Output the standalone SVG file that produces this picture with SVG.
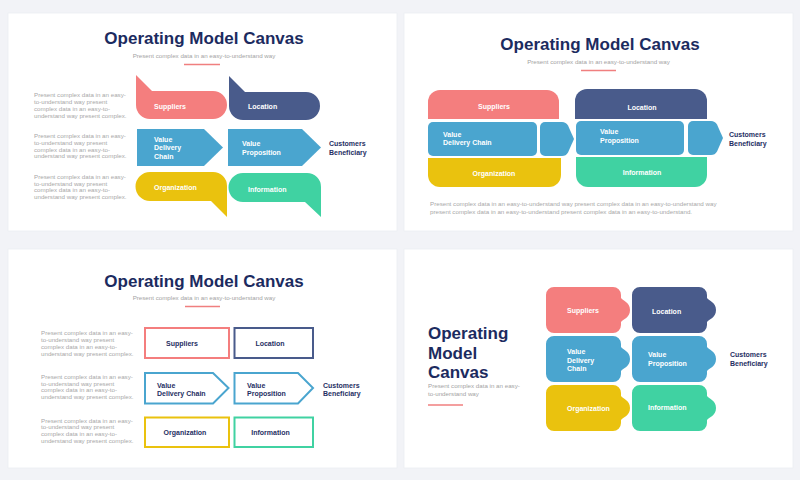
<svg xmlns="http://www.w3.org/2000/svg" xmlns:xlink="http://www.w3.org/1999/xlink" width="800" height="480" viewBox="0 0 800 480">
<style>
.bg{fill:#f2f3f7}
.slide{fill:#ffffff;stroke:#eceef3;stroke-width:0.8}
.title{font-family:"Liberation Sans",Arial,sans-serif;font-weight:bold;font-size:17px;fill:#1c2b5f}
.sub{font-family:"Liberation Sans",Arial,sans-serif;font-size:6.2px;fill:#a3a3a3}
.body{font-family:"Liberation Sans",Arial,sans-serif;font-size:6.2px;fill:#a8a8a8}
.lbl{font-family:"Liberation Sans",Arial,sans-serif;font-weight:bold;font-size:7px;fill:#ffffff}
.lbld{font-family:"Liberation Sans",Arial,sans-serif;font-weight:bold;font-size:7px;fill:#1f2f63}
.rule{stroke:#f07f7f;stroke-width:1.3}
.pink{fill:#f47e7e}
.navy{fill:#495b8b}
.blue{fill:#4aa5cf}
.yellow{fill:#eac20e}
.green{fill:#40d2a2}
.o{fill:#ffffff;stroke-width:2}
.opink{stroke:#f47e7e}
.onavy{stroke:#495b8b}
.oblue{stroke:#4aa5cf}
.oyellow{stroke:#eac20e}
.ogreen{stroke:#40d2a2}
.c{text-anchor:middle}
</style>
<defs>
<path id="puzzle" d="M8,0 H67 A8,8 0 0 1 75,8 V11 C77,14 84,15 84,23 C84,31 77,32 75,35 V38 A8,8 0 0 1 67,46 H8 A8,8 0 0 1 0,38 V8 A8,8 0 0 1 8,0 Z"/>
</defs>
<rect class="bg" x="0" y="0" width="800" height="480"/>

<!-- Slide 1 -->
<g id="slide1">
<rect class="slide" x="8" y="13" width="389" height="218"/>
<text class="title c" x="204" y="43.5">Operating Model Canvas</text>
<text class="sub c" x="204" y="57.5">Present complex data in an easy-to-understand way</text>
<line class="rule" x1="184" y1="64.5" x2="220" y2="64.5"/>
<g id="s1-desc">
<text class="body" x="34" y="97">Present complex data in an easy-</text>
<text class="body" x="34" y="104">to-understand way present</text>
<text class="body" x="34" y="111">complex data in an easy-to-</text>
<text class="body" x="34" y="118">understand way present complex.</text>
<text class="body" x="34" y="138">Present complex data in an easy-</text>
<text class="body" x="34" y="145">to-understand way present</text>
<text class="body" x="34" y="151.5">complex data in an easy-to-</text>
<text class="body" x="34" y="158">understand way present complex.</text>
<text class="body" x="34" y="179">Present complex data in an easy-</text>
<text class="body" x="34" y="185.5">to-understand way present</text>
<text class="body" x="34" y="192">complex data in an easy-to-</text>
<text class="body" x="34" y="199">understand way present complex.</text>
</g>
<g id="s1-suppliers">
<path class="pink" d="M136,75 L152,91 H213 A14,14 0 0 1 213,119 H150 A14,14 0 0 1 136,105 Z"/>
<text class="lbl" x="154" y="108.5">Suppliers</text>
</g>
<g id="s1-location">
<path class="navy" d="M229,76 L245,92 H306 A14,14 0 0 1 306,120 H243 A14,14 0 0 1 229,106 Z"/>
<text class="lbl" x="248" y="108.5">Location</text>
</g>
<g id="s1-vdc">
<path class="blue" d="M137,129 H204 L223,147.5 L204,166 H137 Z"/>
<text class="lbl" x="154" y="141.5">Value</text>
<text class="lbl" x="154" y="150">Delivery</text>
<text class="lbl" x="154" y="158.5">Chain</text>
</g>
<g id="s1-vp">
<path class="blue" d="M228,129 H302 L321,147.5 L302,166 H228 Z"/>
<text class="lbl" x="242" y="146">Value</text>
<text class="lbl" x="242" y="154.5">Proposition</text>
</g>
<g id="s1-org">
<path class="yellow" d="M150,172 H213 A14,14 0 0 1 227,186 V217 L211,201 H150 A14.5,14.5 0 0 1 150,172 Z"/>
<text class="lbl" x="154" y="189.5">Organization</text>
</g>
<g id="s1-info">
<path class="green" d="M243,173 H307 A14,14 0 0 1 321,187 V217 L305,202 H243 A14.5,14.5 0 0 1 243,173 Z"/>
<text class="lbl" x="248" y="191.5">Information</text>
</g>
<g id="s1-customers">
<text class="lbld" x="329" y="146">Customers</text>
<text class="lbld" x="329" y="154.5">Beneficiary</text>
</g>
</g>

<!-- Slide 2 -->
<g id="slide2">
<rect class="slide" x="404" y="13" width="389" height="218"/>
<text class="title c" x="600" y="50">Operating Model Canvas</text>
<text class="sub c" x="598.5" y="64">Present complex data in an easy-to-understand way</text>
<line class="rule" x1="581" y1="70.5" x2="616" y2="70.5"/>
<g id="s2-suppliers">
<path class="pink" d="M428,119 V102 A12,12 0 0 1 440,90 H547 A12,12 0 0 1 559,102 V119 Z"/>
<text class="lbl c" x="494" y="108.5">Suppliers</text>
</g>
<g id="s2-vdc">
<rect class="blue" x="428" y="122" width="109" height="34" rx="5"/>
<path class="blue" d="M545,122 H562 Q566,122 568,125.5 L574,139 L568,152.5 Q566,156 562,156 H545 A5,5 0 0 1 540,151 V127 A5,5 0 0 1 545,122 Z"/>
<text class="lbl" x="443" y="136.5">Value</text>
<text class="lbl" x="443" y="145">Delivery Chain</text>
</g>
<g id="s2-org">
<path class="yellow" d="M428,158 H561 V175 A12,12 0 0 1 549,187 H440 A12,12 0 0 1 428,175 Z"/>
<text class="lbl c" x="494" y="175.5">Organization</text>
</g>
<g id="s2-location">
<path class="navy" d="M575,119 V101 A12,12 0 0 1 587,89 H695 A12,12 0 0 1 707,101 V119 Z"/>
<text class="lbl c" x="642" y="109.5">Location</text>
</g>
<g id="s2-vp">
<rect class="blue" x="576" y="121" width="108" height="34" rx="5"/>
<path class="blue" d="M693,121 H711 Q715,121 717,124.5 L723,138 L717,151.5 Q715,155 711,155 H693 A5,5 0 0 1 688,150 V126 A5,5 0 0 1 693,121 Z"/>
<text class="lbl" x="600" y="134">Value</text>
<text class="lbl" x="600" y="142.5">Proposition</text>
</g>
<g id="s2-info">
<path class="green" d="M576,157 H707 V175 A12,12 0 0 1 695,187 H588 A12,12 0 0 1 576,175 Z"/>
<text class="lbl c" x="642" y="174.5">Information</text>
</g>
<g id="s2-customers">
<text class="lbld" x="729" y="137">Customers</text>
<text class="lbld" x="729" y="146">Beneficiary</text>
</g>
<g id="s2-desc">
<text class="body" x="430" y="205.5">Present complex data in an easy-to-understand way present complex data in an easy-to-understand way</text>
<text class="body" x="430" y="213.5">present complex data in an easy-to-understand present complex data in an easy-to-understand.</text>
</g>
</g>

<!-- Slide 3 -->
<g id="slide3">
<rect class="slide" x="8" y="249" width="389" height="219"/>
<text class="title c" x="204" y="286.7">Operating Model Canvas</text>
<text class="sub c" x="204" y="299.5">Present complex data in an easy-to-understand way</text>
<line class="rule" x1="185" y1="306.5" x2="220" y2="306.5"/>
<g id="s3-desc">
<text class="body" x="41" y="335">Present complex data in an easy-</text>
<text class="body" x="41" y="341.5">to-understand way present</text>
<text class="body" x="41" y="348.5">complex data in an easy-to-</text>
<text class="body" x="41" y="355.5">understand way present complex.</text>
<text class="body" x="41" y="379">Present complex data in an easy-</text>
<text class="body" x="41" y="385.5">to-understand way present</text>
<text class="body" x="41" y="392">complex data in an easy-to-</text>
<text class="body" x="41" y="399">understand way present complex.</text>
<text class="body" x="41" y="422.5">Present complex data in an easy-</text>
<text class="body" x="41" y="429">to-understand way present</text>
<text class="body" x="41" y="436">complex data in an easy-to-</text>
<text class="body" x="41" y="443">understand way present complex.</text>
</g>
<g id="s3-suppliers">
<rect class="o opink" x="145" y="328" width="84" height="30"/>
<text class="lbld c" x="182" y="345.5">Suppliers</text>
</g>
<g id="s3-location">
<rect class="o onavy" x="234.5" y="328" width="78.5" height="30"/>
<text class="lbld c" x="270" y="345.5">Location</text>
</g>
<g id="s3-vdc">
<path class="o oblue" d="M145,373 H213 L228.5,388 L213,403.5 H145 Z"/>
<text class="lbld" x="157" y="387.5">Value</text>
<text class="lbld" x="157" y="396">Delivery Chain</text>
</g>
<g id="s3-vp">
<path class="o oblue" d="M234.5,373 H298 L313,388 L298,403.5 H234.5 Z"/>
<text class="lbld" x="247" y="387.5">Value</text>
<text class="lbld" x="247" y="396">Proposition</text>
</g>
<g id="s3-org">
<rect class="o oyellow" x="145" y="417.5" width="84" height="29.5"/>
<text class="lbld c" x="185" y="434.5">Organization</text>
</g>
<g id="s3-info">
<rect class="o ogreen" x="234.5" y="417.5" width="78.5" height="29.5"/>
<text class="lbld c" x="270.5" y="435">Information</text>
</g>
<g id="s3-customers">
<text class="lbld" x="323" y="387.5">Customers</text>
<text class="lbld" x="323" y="396">Beneficiary</text>
</g>
</g>

<!-- Slide 4 -->
<g id="slide4">
<rect class="slide" x="404" y="249" width="389" height="219"/>
<text class="title" x="428" y="339.3">Operating</text>
<text class="title" x="428" y="358.5">Model</text>
<text class="title" x="428" y="377.7">Canvas</text>
<text class="sub" x="428" y="388">Present complex data in an easy-</text>
<text class="sub" x="428" y="395.5">to-understand way</text>
<line class="rule" x1="428" y1="405" x2="463" y2="405"/>
<g id="s4-suppliers">
<use xlink:href="#puzzle" class="pink" x="546" y="287"/>
<text class="lbl" x="567" y="313">Suppliers</text>
</g>
<g id="s4-location">
<use xlink:href="#puzzle" class="navy" x="632" y="287"/>
<text class="lbl" x="652" y="314">Location</text>
</g>
<g id="s4-vdc">
<use xlink:href="#puzzle" class="blue" x="546" y="336"/>
<text class="lbl" x="567" y="354">Value</text>
<text class="lbl" x="567" y="362.5">Delivery</text>
<text class="lbl" x="567" y="371">Chain</text>
</g>
<g id="s4-vp">
<use xlink:href="#puzzle" class="blue" x="632" y="336"/>
<text class="lbl" x="648" y="357">Value</text>
<text class="lbl" x="648" y="365.5">Proposition</text>
</g>
<g id="s4-org">
<use xlink:href="#puzzle" class="yellow" x="546" y="385"/>
<text class="lbl" x="567" y="410.5">Organization</text>
</g>
<g id="s4-info">
<use xlink:href="#puzzle" class="green" x="632" y="385"/>
<text class="lbl" x="648" y="409.5">Information</text>
</g>
<g id="s4-customers">
<text class="lbld" x="730" y="357">Customers</text>
<text class="lbld" x="730" y="365.5">Beneficiary</text>
</g>
</g>
<g id="connectors"/>
</svg>
